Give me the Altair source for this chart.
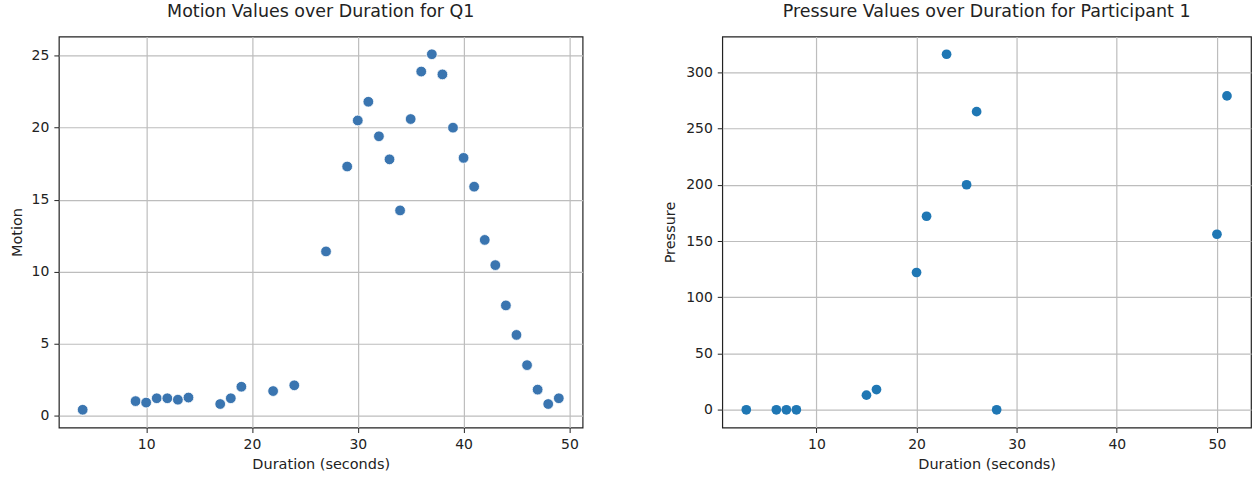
import altair as alt
import pandas as pd

# Motion (Q1)
motion_duration = [4, 9, 10, 11, 12, 13, 14, 17, 18, 19, 22, 24, 27, 29, 30, 31, 32, 33, 34,
                   35, 36, 37, 38, 39, 40, 41, 42, 43, 44, 45, 46, 47, 48, 49]
motion_values = [0.4, 1.0, 0.9, 1.2, 1.2, 1.1, 1.25, 0.8, 1.2, 2.0, 1.7, 2.1, 11.4, 17.3, 20.5,
                 21.8, 19.4, 17.8, 14.25, 20.6, 23.9, 25.1, 23.7, 20.0, 17.9, 15.9, 12.2, 10.45,
                 7.65, 5.6, 3.5, 1.8, 0.8, 1.2]

# Pressure (Participant 1)
pressure_duration = [3, 6, 7, 8, 15, 16, 20, 21, 23, 25, 26, 28, 50, 51]
pressure_values = [0, 0, 0, 0, 13, 18, 122, 172, 316, 200, 265, 0, 156, 279]

df_m = pd.DataFrame({"Duration": motion_duration, "Motion": motion_values})
df_p = pd.DataFrame({"Duration": pressure_duration, "Pressure": pressure_values})

FONT = "DejaVu Sans"

def axis(values, title, title_pad):
    return alt.Axis(values=values, title=title, grid=True, domain=False,
                    tickColor="#222222", tickSize=5, tickWidth=1,
                    labelPadding=5, labelFontSize=14, labelColor="#222222",
                    labelFont=FONT, titleFont=FONT, titleFontSize=14.5,
                    titleFontWeight="normal", titleColor="#222222",
                    titlePadding=title_pad, gridColor="#bdbdbd", gridWidth=1.2)

left = alt.Chart(df_m).mark_circle(
    size=115, color="#3a75b0", opacity=1, stroke="white", strokeWidth=0.8
).encode(
    x=alt.X("Duration:Q", scale=alt.Scale(domain=[1.75, 51.25], nice=False, zero=False),
            axis=axis([10, 20, 30, 40, 50], "Duration (seconds)", 6)),
    y=alt.Y("Motion:Q", scale=alt.Scale(domain=[-0.835, 26.335], nice=False, zero=False),
            axis=axis([0, 5, 10, 15, 20, 25], "Motion", 7)),
).properties(
    width=525, height=392,
    title=alt.TitleParams("Motion Values over Duration for Q1", fontSize=17.5,
                          font=FONT, fontWeight="normal", color="#222222", offset=16)
)

right = alt.Chart(df_p).mark_circle(
    size=95, color="#1f77b4", opacity=1
).encode(
    x=alt.X("Duration:Q", scale=alt.Scale(domain=[0.6, 53.4], nice=False, zero=False),
            axis=axis([10, 20, 30, 40, 50], "Duration (seconds)", 6)),
    y=alt.Y("Pressure:Q", scale=alt.Scale(domain=[-15.8, 331.8], nice=False, zero=False),
            axis=axis([0, 50, 100, 150, 200, 250, 300], "Pressure", 8)),
).properties(
    width=530, height=392,
    title=alt.TitleParams("Pressure Values over Duration for Participant 1", fontSize=17.5,
                          font=FONT, fontWeight="normal", color="#222222", offset=16)
)

chart = alt.hconcat(left, right, spacing=78).properties(
    padding={"left": 8, "top": 1, "right": 0, "bottom": 0},
    background="white",
).configure_view(stroke="#222222", strokeWidth=1.2)

chart.save("out.html", embed_options={"renderer": "svg", "actions": False})
